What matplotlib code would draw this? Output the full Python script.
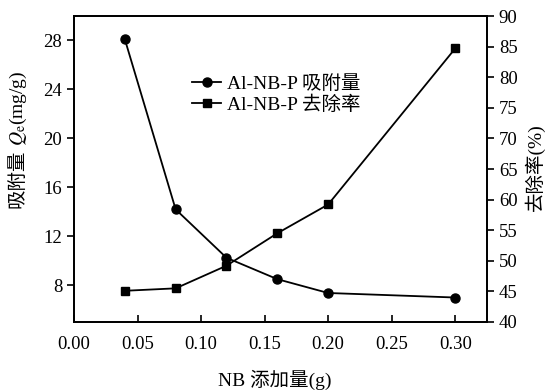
import matplotlib
matplotlib.use('Agg')
import matplotlib.pyplot as plt

plt.rcParams['font.family'] = ['Liberation Serif', 'Noto Sans CJK SC']
plt.rcParams['mathtext.fontset'] = 'stix'

# NB 添加量 (g)
nb = [0.04, 0.08, 0.12, 0.16, 0.20, 0.30]
# 吸附量 Qe (mg/g)
qe = [28.1, 14.2, 10.25, 8.5, 7.37, 7.0]
# 去除率 (%)
removal = [45.1, 45.5, 49.2, 54.5, 59.2, 84.7]

xticks = [0.00, 0.05, 0.10, 0.15, 0.20, 0.25, 0.30]
left_ticks = [8, 12, 16, 20, 24, 28]
right_ticks = [40, 45, 50, 55, 60, 65, 70, 75, 80, 85, 90]

W, H = 554, 390
fig = plt.figure(figsize=(W / 100, H / 100), dpi=100)
ax = fig.add_axes([74 / W, 1 - 322 / H, (487 - 74) / W, (322 - 16) / H])
ax2 = ax.twinx()

l1, = ax.plot(nb, qe, color='black', marker='o', markersize=6.5, linewidth=1.3)
l2, = ax2.plot(nb, removal, color='black', marker='s', markersize=6, linewidth=1.3)

ax.set_xlim(0, 0.325)
ax.set_ylim(5, 30)
ax2.set_ylim(40, 90)
ax.set_xticks(xticks)
ax.set_xticklabels([f'{v:.2f}' for v in xticks])
ax.set_yticks(left_ticks)
ax2.set_yticks(right_ticks)

ax.tick_params(axis='x', direction='in', length=5, width=1.2, pad=10, labelsize=13.5)
ax.tick_params(axis='y', direction='out', length=5, width=1.2, labelsize=13.5)
ax2.tick_params(axis='y', direction='out', length=5, width=1.2, labelsize=13.5)
for a in (ax, ax2):
    for s in a.spines.values():
        s.set_linewidth(1.3)

fig.text(275 / W, 1 - 380 / H, 'NB 添加量(g)', fontsize=14, ha='center', va='center')
fig.text(535 / W, 1 - 167 / H, '去除率(%)', fontsize=14, rotation=90, ha='center', va='center')

# 左侧纵轴标题: 中文和 Qe 分两段写, mathtext 不支持中文
t1 = fig.text(18 / W, 1 - 208 / H, '吸附量', fontsize=14, rotation=90, ha='center', va='bottom')
fig.canvas.draw()
bb = t1.get_window_extent()
fig.text(18 / W, (bb.y1 + 4) / H, '$Q_\\mathrm{e}$(mg/g)', fontsize=14, rotation=90,
         ha='center', va='bottom')

ax.legend([l1, l2], ['Al-NB-P 吸附量', 'Al-NB-P 去除率'], loc='upper left',
          bbox_to_anchor=(192 / W, 1 - 75 / H), bbox_transform=fig.transFigure,
          frameon=False, fontsize=14, handlelength=1.5, handletextpad=0.3,
          borderaxespad=0, borderpad=0, labelspacing=0.15)

fig.savefig('out.png', dpi=100)
